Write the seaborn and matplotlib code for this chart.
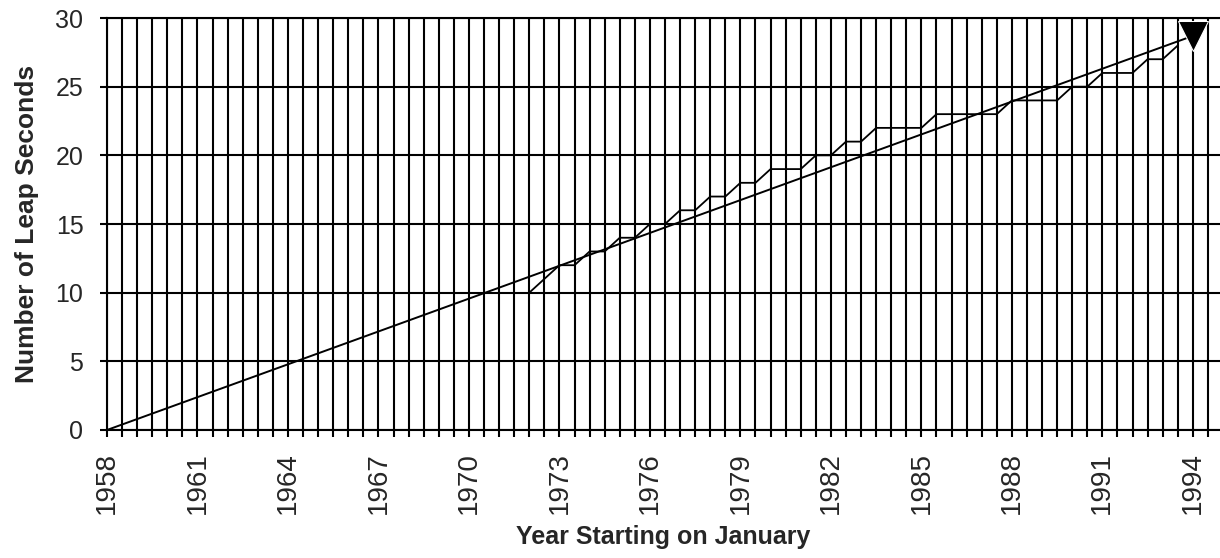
import matplotlib
matplotlib.use('Agg')
import matplotlib.pyplot as plt
import seaborn as sns
from matplotlib.ticker import MultipleLocator

# leap second count sampled every half year (1 Jan / 1 Jul)
leap_years = [1972.0, 1972.5, 1973.0, 1973.5, 1974.0, 1974.5, 1975.0, 1975.5,
              1976.0, 1976.5, 1977.0, 1977.5, 1978.0, 1978.5, 1979.0, 1979.5,
              1980.0, 1980.5, 1981.0, 1981.5, 1982.0, 1982.5, 1983.0, 1983.5,
              1984.0, 1984.5, 1985.0, 1985.5, 1986.0, 1986.5, 1987.0, 1987.5,
              1988.0, 1988.5, 1989.0, 1989.5, 1990.0, 1990.5, 1991.0, 1991.5,
              1992.0, 1992.5, 1993.0, 1993.5]
leap_counts = [10, 11, 12, 12, 13, 13, 14, 14,
               15, 15, 16, 16, 17, 17, 18, 18,
               19, 19, 19, 20, 20, 21, 21, 22,
               22, 22, 22, 23, 23, 23, 23, 23,
               24, 24, 24, 24, 25, 25, 26, 26,
               26, 27, 27, 28]

# straight trend line with the arrow head at its end
trend_years = [1958, 1994]
trend_counts = [0, 28.7]

year_ticks = list(range(1958, 1995, 3))
count_ticks = [0, 5, 10, 15, 20, 25, 30]

sns.set_style('white')
plt.rcParams['font.family'] = ['Liberation Sans', 'DejaVu Sans']

fig = plt.figure(figsize=(12.2, 5.58), dpi=100)
ax = fig.add_axes([0.0877, 0.2294, 0.9123, 0.7383])

sns.lineplot(x=leap_years, y=leap_counts, ax=ax, color='black', lw=1.3)
sns.lineplot(x=trend_years, y=trend_counts, ax=ax, color='black', lw=1.4,
             marker='v', markevery=[1], markersize=22)

ax.set_xlim(1958, 1994.9)
ax.set_ylim(0, 30)
ax.set_xticks(year_ticks)
ax.set_xticklabels([str(y) for y in year_ticks], rotation=90)
ax.xaxis.set_minor_locator(MultipleLocator(0.5))
ax.set_yticks(count_ticks)

ax.set_axisbelow(True)
ax.grid(which='both', axis='x', color='black', lw=1.5)
ax.grid(which='major', axis='y', color='black', lw=1.5)
ax.tick_params(which='both', direction='out', length=5, width=1.5,
               color='black', bottom=True, left=True)
ax.tick_params(axis='y', which='major', labelsize=18, pad=12)
ax.tick_params(axis='x', which='major', labelsize=20, pad=11)

for side in ['left', 'bottom', 'top']:
    ax.spines[side].set_color('black')
    ax.spines[side].set_linewidth(1.5)
ax.spines['right'].set_visible(False)

ax.set_ylabel('Number of Leap Seconds', fontsize=19, fontweight='bold', labelpad=12)
ax.set_xlabel('Year Starting on January', fontsize=18, fontweight='bold', labelpad=8)

fig.savefig('out.png', dpi=100)
